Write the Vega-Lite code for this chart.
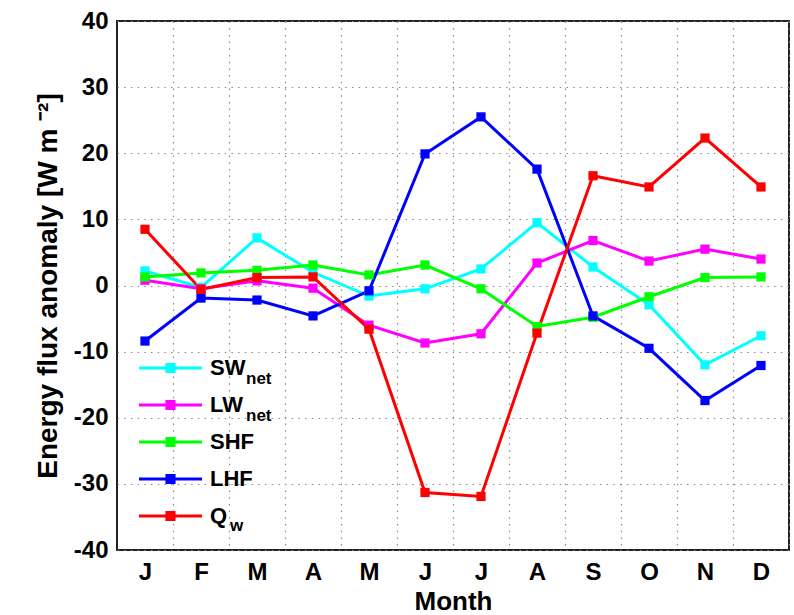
{
  "$schema": "https://vega.github.io/schema/vega-lite/v6.json",
  "width": 672,
  "height": 529,
  "autosize": "none",
  "padding": {"left": 117, "top": 21, "right": 5, "bottom": 65},
  "background": "white",
  "config": {
    "font": "Liberation Sans",
    "view": {"stroke": "#222222", "strokeWidth": 2, "fill": "white"},
    "axis": {
      "labelFont": "Liberation Sans",
      "labelFontWeight": "bold",
      "labelColor": "black",
      "titleFont": "Liberation Sans",
      "titleFontWeight": "bold",
      "titleColor": "black",
      "domain": false,
      "ticks": false,
      "gridColor": "#8a8a8a",
      "gridDash": [1.5, 5.2],
      "gridWidth": 1.2,
      "gridOpacity": 1
    },
    "legend": {
      "orient": "none",
      "title": null,
      "direction": "vertical",
      "padding": 0,
      "clipHeight": 30,
      "rowPadding": 7,
      "labelFont": "Liberation Sans",
      "labelFontWeight": "bold",
      "labelColor": "black"
    }
  },
  "data": {
    "values": [
      {"month": 1, "series": "SWnet", "value": 2.2},
      {"month": 2, "series": "SWnet", "value": -0.3},
      {"month": 3, "series": "SWnet", "value": 7.2},
      {"month": 4, "series": "SWnet", "value": 2.0},
      {"month": 5, "series": "SWnet", "value": -1.6},
      {"month": 6, "series": "SWnet", "value": -0.5},
      {"month": 7, "series": "SWnet", "value": 2.5},
      {"month": 8, "series": "SWnet", "value": 9.5},
      {"month": 9, "series": "SWnet", "value": 2.8},
      {"month": 10, "series": "SWnet", "value": -2.9},
      {"month": 11, "series": "SWnet", "value": -12.0},
      {"month": 12, "series": "SWnet", "value": -7.6},
      {"month": 1, "series": "LWnet", "value": 0.8},
      {"month": 2, "series": "LWnet", "value": -0.5},
      {"month": 3, "series": "LWnet", "value": 0.7},
      {"month": 4, "series": "LWnet", "value": -0.4},
      {"month": 5, "series": "LWnet", "value": -6.0},
      {"month": 6, "series": "LWnet", "value": -8.7},
      {"month": 7, "series": "LWnet", "value": -7.3},
      {"month": 8, "series": "LWnet", "value": 3.4},
      {"month": 9, "series": "LWnet", "value": 6.8},
      {"month": 10, "series": "LWnet", "value": 3.7},
      {"month": 11, "series": "LWnet", "value": 5.5},
      {"month": 12, "series": "LWnet", "value": 4.0},
      {"month": 1, "series": "SHF", "value": 1.3},
      {"month": 2, "series": "SHF", "value": 1.9},
      {"month": 3, "series": "SHF", "value": 2.3},
      {"month": 4, "series": "SHF", "value": 3.1},
      {"month": 5, "series": "SHF", "value": 1.6},
      {"month": 6, "series": "SHF", "value": 3.1},
      {"month": 7, "series": "SHF", "value": -0.5},
      {"month": 8, "series": "SHF", "value": -6.2},
      {"month": 9, "series": "SHF", "value": -4.8},
      {"month": 10, "series": "SHF", "value": -1.7},
      {"month": 11, "series": "SHF", "value": 1.2},
      {"month": 12, "series": "SHF", "value": 1.3},
      {"month": 1, "series": "LHF", "value": -8.4},
      {"month": 2, "series": "LHF", "value": -1.9},
      {"month": 3, "series": "LHF", "value": -2.2},
      {"month": 4, "series": "LHF", "value": -4.6},
      {"month": 5, "series": "LHF", "value": -0.8},
      {"month": 6, "series": "LHF", "value": 19.9},
      {"month": 7, "series": "LHF", "value": 25.5},
      {"month": 8, "series": "LHF", "value": 17.6},
      {"month": 9, "series": "LHF", "value": -4.6},
      {"month": 10, "series": "LHF", "value": -9.5},
      {"month": 11, "series": "LHF", "value": -17.4},
      {"month": 12, "series": "LHF", "value": -12.1},
      {"month": 1, "series": "Qw", "value": 8.5},
      {"month": 2, "series": "Qw", "value": -0.6},
      {"month": 3, "series": "Qw", "value": 1.2},
      {"month": 4, "series": "Qw", "value": 1.3},
      {"month": 5, "series": "Qw", "value": -6.6},
      {"month": 6, "series": "Qw", "value": -31.3},
      {"month": 7, "series": "Qw", "value": -31.9},
      {"month": 8, "series": "Qw", "value": -7.2},
      {"month": 9, "series": "Qw", "value": 16.6},
      {"month": 10, "series": "Qw", "value": 14.9},
      {"month": 11, "series": "Qw", "value": 22.3},
      {"month": 12, "series": "Qw", "value": 14.9}
    ]
  },
  "encoding": {
    "x": {
      "field": "month",
      "type": "quantitative",
      "scale": {"domain": [0.5, 12.5], "nice": false, "zero": false},
      "axis": {
        "values": [1, 2, 3, 4, 5, 6, 7, 8, 9, 10, 11, 12],
        "tickOffset": 28,
        "labelOffset": -28,
        "labelExpr": "['J','F','M','A','M','J','J','A','S','O','N','D'][datum.value - 1]",
        "labelFontSize": 24,
        "labelPadding": 10,
        "labelFlush": false,
        "labelOverlap": false,
        "grid": true,
        "title": "Month",
        "titleFontSize": 26,
        "titlePadding": 4
      }
    },
    "y": {
      "field": "value",
      "type": "quantitative",
      "scale": {"domain": [-40, 40], "nice": false},
      "axis": {
        "values": [-40, -30, -20, -10, 0, 10, 20, 30, 40],
        "labelExpr": "'' + datum.value",
        "labelFontSize": 24,
        "labelPadding": 9,
        "labelFlush": false,
        "labelOverlap": false,
        "grid": true,
        "title": "Energy flux anomaly [W m ⁻²]",
        "titleFontSize": 28,
        "titlePadding": 11
      }
    }
  },
  "layer": [
    {
      "encoding": {
        "color": {
          "field": "series",
          "type": "nominal",
          "scale": {
            "domain": ["SWnet", "LWnet", "SHF", "LHF", "Qw"],
            "range": ["#00FFFF", "#FF00FF", "#00FF00", "#0000FF", "#FF0000"]
          },
          "legend": {
            "legendX": 22,
            "legendY": 332,
            "symbolType": "M-1,-0.048L1,-0.048L1,0.048L-1,0.048Z M-0.16,-0.16L0.16,-0.16L0.16,0.16L-0.16,0.16Z",
            "symbolSize": 3969,
            "symbolStrokeWidth": 0,
            "labelOffset": 8,
            "labelFontSize": 22,
            "labelExpr": "datum.label == 'SWnet' ? 'SW' : datum.label == 'LWnet' ? 'LW' : datum.label == 'Qw' ? 'Q' : datum.label",
            "encode": {
              "symbols": {
                "update": {
                  "fill": {"signal": "datum.value == 'SWnet' ? '#00FFFF' : datum.value == 'LWnet' ? '#FF00FF' : datum.value == 'SHF' ? '#00FF00' : datum.value == 'LHF' ? '#0000FF' : '#FF0000'"},
                  "stroke": {"value": "transparent"},
                  "opacity": {"value": 1}
                }
              }
            }
          }
        }
      },
      "layer": [
        {"mark": {"type": "line", "strokeWidth": 3}},
        {"mark": {"type": "point", "shape": "square", "filled": true, "size": 85, "opacity": 1}}
      ]
    },
    {
      "mark": {"type": "point", "opacity": 0},
      "encoding": {
        "color": {
          "field": "series",
          "type": "nominal",
          "scale": {
            "domain": ["SWnet", "LWnet", "SHF", "LHF", "Qw"],
            "range": ["#00FFFF", "#FF00FF", "#00FF00", "#0000FF", "#FF0000"]
          },
          "legend": {
            "legendX": 112,
            "legendY": 343,
            "symbolSize": 4,
            "symbolOpacity": 0,
            "labelOffset": 0,
            "labelFontSize": 17,
            "labelExpr": "datum.label == 'SWnet' || datum.label == 'LWnet' ? 'net' : ''"
          }
        }
      }
    },
    {
      "mark": {"type": "point", "opacity": 0},
      "encoding": {
        "color": {
          "field": "series",
          "type": "nominal",
          "scale": {
            "domain": ["SWnet", "LWnet", "SHF", "LHF", "Qw"],
            "range": ["#00FFFF", "#FF00FF", "#00FF00", "#0000FF", "#FF0000"]
          },
          "legend": {
            "legendX": 96,
            "legendY": 342,
            "symbolSize": 4,
            "symbolOpacity": 0,
            "labelOffset": 0,
            "labelFontSize": 17,
            "labelExpr": "datum.label == 'Qw' ? 'w' : ''"
          }
        }
      }
    }
  ],
  "resolve": {"scale": {"color": "independent"}}
}
